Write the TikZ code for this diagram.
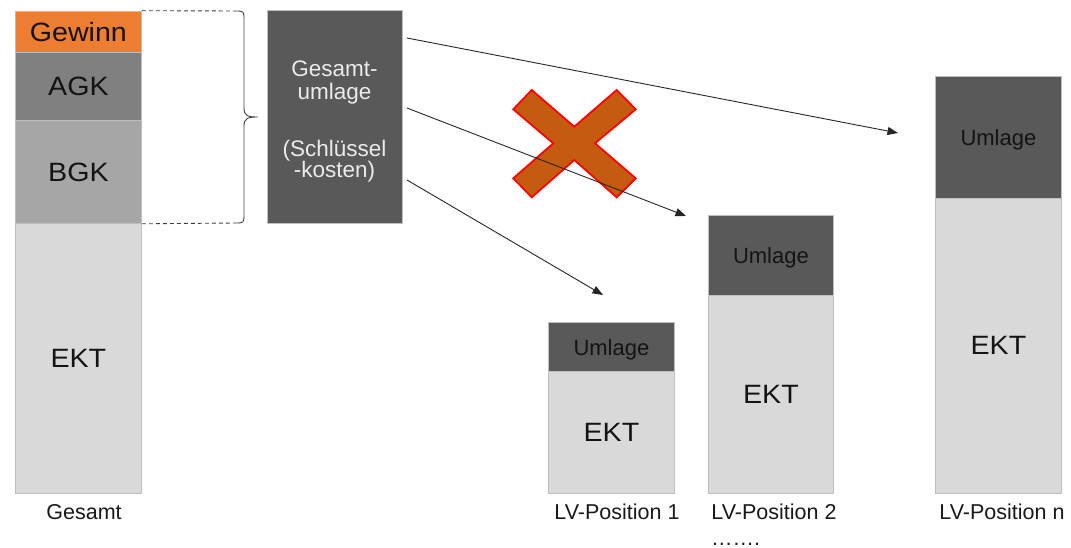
\documentclass[tikz,border=0pt]{standalone}
\usepackage{fontspec}
\usepackage{graphicx}
\setmainfont{Liberation Sans}
\usetikzlibrary{arrows.meta}

\definecolor{gewinn}{HTML}{ED7D31}
\definecolor{agk}{HTML}{808080}
\definecolor{bgk}{HTML}{A6A6A6}
\definecolor{ekt}{HTML}{D9D9D9}
\definecolor{umlage}{HTML}{595959}
\definecolor{edge}{HTML}{BFBFBF}
\definecolor{crossfill}{HTML}{C55A11}
\definecolor{ink}{HTML}{404040}

% slightly widened label text
\newcommand{\wide}[1]{\scalebox{1.08}[1]{#1}}

\begin{document}
\begin{tikzpicture}[x=1pt,y=-1pt,
  seg/.style={draw=edge, line width=0.8pt, inner sep=0pt, anchor=north west,
              text depth=0pt, text=black!92},
  big/.style={font=\fontsize{26.5}{30}\selectfont},
  small/.style={font=\fontsize{22}{26}\selectfont},
  lbl/.style={font=\fontsize{21.5}{25}\selectfont, anchor=base, text=black!90, inner sep=0pt},
  boxtxt/.style={font=\fontsize{22.5}{26}\selectfont, anchor=base, text=white!92!black, inner sep=0pt},
  guide/.style={draw=ink, line width=0.9pt},
  arr/.style={draw=black!85, line width=0.9pt, -{Triangle[length=10.5pt,width=8pt]}},
]
\useasboundingbox (0,0) rectangle (1071,548);

% total cost stack
\node[seg, fill=gewinn, big, minimum width=126pt, minimum height=41pt] (gew) at (15,10.7) {\wide{Gewinn}};
\node[seg, fill=agk, big, minimum width=126pt, minimum height=68.3pt] (agk) at (15,51.7) {\wide{AGK}};
\node[seg, fill=bgk, big, minimum width=126pt, minimum height=103pt] (bgk) at (15,120) {\wide{BGK}};
\node[seg, fill=ekt, big, minimum width=126pt, minimum height=270pt] (ekt0) at (15,223) {\wide{EKT}};

% dashed guides and brace
\coordinate (bt) at (235,11);
\coordinate (bb) at (235,223);
\coordinate (tip) at (258,117);
\draw[guide, dash pattern=on 4pt off 3pt] (gew.north east) -- (bt);
\draw[guide, dash pattern=on 4pt off 3pt] (bgk.south east) -- (bb);
\draw[guide] (bt) .. controls (244,11) .. (244,20) -- (244,108)
  .. controls (244,116) and (248,117) .. (tip)
  .. controls (248,117) and (244,118) .. (244,126) -- (244,214)
  .. controls (244,223) .. (bb);

% allocation box
\node[draw=edge, line width=0.8pt, fill=umlage, inner sep=0pt, anchor=north west,
      minimum width=135pt, minimum height=213pt] (gu) at (267,10) {};
\node[boxtxt] (gu1) at (334.5,77) {Gesamt-};
\node[boxtxt] (gu2) at (334.5,100) {umlage};
\node[boxtxt] (gu3) at (334.5,156.5) {(Schlüssel};
\node[boxtxt] (gu4) at (334.5,178) {-kosten)};

% item stacks
\node[seg, fill=umlage, small, minimum width=126pt, minimum height=48.7pt] (u1) at (548,322.3) {Umlage};
\node[seg, fill=ekt, big, minimum width=126pt, minimum height=122pt] (e1) at (548,371) {\wide{EKT}};

\node[seg, fill=umlage, small, minimum width=125pt, minimum height=80pt] (u2) at (708,215) {Umlage};
\node[seg, fill=ekt, big, minimum width=125pt, minimum height=198pt] (e2) at (708,295) {\wide{EKT}};

\node[seg, fill=umlage, small, minimum width=126pt, minimum height=122pt] (un) at (935,75.7) {Umlage};
\node[seg, fill=ekt, big, minimum width=126pt, minimum height=295pt] (en) at (935,197.7) {\wide{EKT}};

% captions
\node[lbl] (c0) at (84,519) {Gesamt};
\node[lbl] (c1) at (617,519) {LV-Position 1};
\node[lbl] (c2) at (774,519) {LV-Position 2};
\node[lbl] (cn) at (1002,519) {LV-Position n};
\node[lbl, anchor=base west] (dots) at (711,545) {…….};

% crossed-out allocation
\filldraw[fill=crossfill, draw=red, line width=1.8pt, line join=miter]
  (513.3,109.3) -- (531.7,90) -- (574.3,126.7) -- (616.7,90) -- (635.7,109.3)
  -- (595,143.3) -- (635.7,178.3) -- (616.7,197.3) -- (574.3,160)
  -- (531.7,197.3) -- (513.3,178.3) -- (553.3,143.3) -- cycle;

% allocation arrows
\coordinate (s1) at (407,38);
\coordinate (s2) at (407,108);
\coordinate (s3) at (407,180);
\coordinate (t1) at (898,133);
\coordinate (t2) at (686,216);
\coordinate (t3) at (603,295);
\draw[arr] (s1) -- (t1);
\draw[arr] (s2) -- (t2);
\draw[arr] (s3) -- (t3);
\end{tikzpicture}
\end{document}
